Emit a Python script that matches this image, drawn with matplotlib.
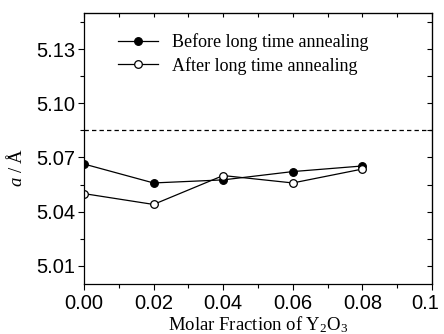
"""Lattice parameter a vs. Y2O3 molar fraction, before/after long annealing."""

import matplotlib

matplotlib.use("Agg")
import matplotlib.pyplot as plt
import matplotlib.transforms as mtransforms
from matplotlib.ticker import MultipleLocator

plt.rcParams["mathtext.fontset"] = "custom"
plt.rcParams["mathtext.rm"] = "Liberation Serif"
plt.rcParams["mathtext.it"] = "Liberation Serif:italic"

# ---- data ------------------------------------------------------------------ #
frac = [0.00, 0.02, 0.04, 0.06, 0.08]
a_before = [5.0664, 5.0559, 5.0576, 5.0622, 5.0653]
a_after = [5.0500, 5.0440, 5.0600, 5.0559, 5.0636]
a_ref = 5.0852

x_ticks = [0.00, 0.02, 0.04, 0.06, 0.08, 0.10]
x_ticklabels = ["0.00", "0.02", "0.04", "0.06", "0.08", "0.1"]
y_ticks = [5.01, 5.04, 5.07, 5.10, 5.13]
y_ticklabels = ["5.01", "5.04", "5.07", "5.10", "5.13"]

SANS = "Liberation Sans"
SERIF = "Liberation Serif"

fig = plt.figure(figsize=(4.44, 3.34), dpi=100)
ax = fig.add_axes([0.189, 0.150, 0.784, 0.811])

ax.axhline(a_ref, color="black", lw=0.9, ls=(0, (3.5, 2.5)))
ax.plot(frac, a_before, color="black", lw=0.9, marker="o", ms=5.5,
        mfc="black", mec="black", mew=0.9, label="Before long time annealing")
ax.plot(frac, a_after, color="black", lw=0.9, marker="o", ms=5.5,
        mfc="white", mec="black", mew=0.9, label="After long time annealing")

ax.set_xlim(0.0, 0.1)
ax.set_ylim(5.00, 5.15)
ax.set_xticks(x_ticks)
ax.set_xticklabels(x_ticklabels)
ax.set_yticks(y_ticks)
ax.set_yticklabels(y_ticklabels)
ax.xaxis.set_minor_locator(MultipleLocator(0.01))
ax.yaxis.set_minor_locator(MultipleLocator(0.015))

# left/bottom ticks point out, mirrored ticks on top/right point in
ax.tick_params(axis="both", which="both", labelsize=14.5, width=0.8)
ax.tick_params(axis="both", which="major", length=4)
ax.tick_params(axis="both", which="minor", length=3)
ax.tick_params(axis="x", which="both", direction="out", pad=3)
ax.tick_params(axis="y", which="both", direction="out", pad=2)
for lab in ax.get_xticklabels() + ax.get_yticklabels():
    lab.set_family(SANS)

# nudge the last x label inward so it stays on the canvas
last = ax.get_xticklabels()[-1]
last.set_transform(last.get_transform()
                   + mtransforms.ScaledTranslation(-7 / 100, 0, fig.dpi_scale_trans))

axt = ax.secondary_xaxis("top")
axt.set_xticks(x_ticks)
axt.xaxis.set_minor_locator(MultipleLocator(0.01))
axt.tick_params(which="both", direction="in", length=3, width=0.8, labeltop=False)
axr = ax.secondary_yaxis("right")
axr.set_yticks(y_ticks)
axr.yaxis.set_minor_locator(MultipleLocator(0.015))
axr.tick_params(which="both", direction="in", length=3.5, width=0.8, labelright=False)

for sp in ax.spines.values():
    sp.set_linewidth(0.9)

ax.set_xlabel("Molar Fraction of Y$_2$O$_3$", family=SERIF, fontsize=13.5, labelpad=1)
ax.set_ylabel("$a$ / Å", family=SERIF, fontsize=13.5)
ax.yaxis.set_label_coords(-0.165, 0.43)

ax.legend(loc="upper left", bbox_to_anchor=(0.098, 0.925), frameon=False,
          prop={"family": SERIF, "size": 13}, handlelength=2.2,
          handletextpad=0.8, labelspacing=0.3, borderpad=0, borderaxespad=0)

fig.savefig("out.png", dpi=100)
